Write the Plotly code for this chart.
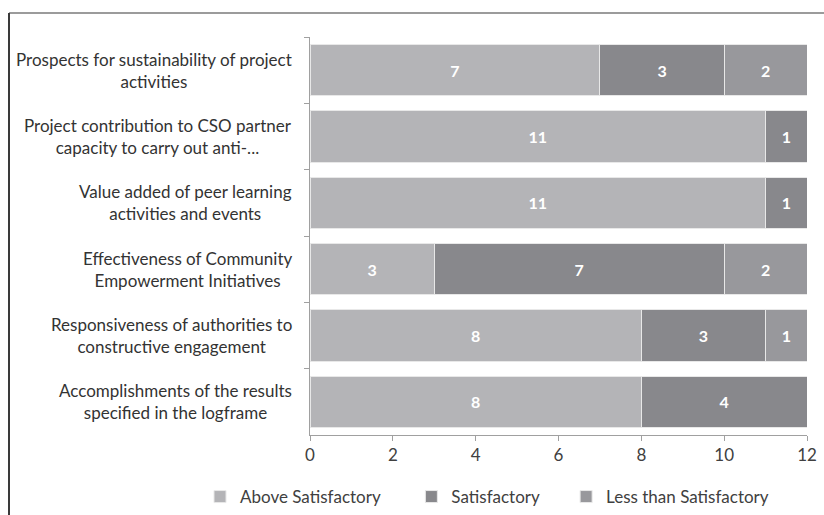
import plotly.graph_objects as go

categories = [
    "Prospects for sustainability of project<br>activities",
    "Project contribution to CSO partner<br>capacity to carry out anti-...",
    "Value added of peer learning<br>activities and events",
    "Effectiveness of Community<br>Empowerment Initiatives",
    "Responsiveness of authorities to<br>constructive engagement",
    "Accomplishments of the results<br>specified in the logframe",
]
above = [7, 11, 11, 3, 8, 8]
satisfactory = [3, 1, 1, 7, 3, 4]
less_than = [2, None, None, 2, 1, None]
x_ticks = [0, 2, 4, 6, 8, 10, 12]

NB = "\u00a0"
series = [
    ("Above Satisfactory" + NB * 6, above, "#b4b4b7"),
    ("Satisfactory" + NB * 5, satisfactory, "#88888c"),
    ("Less than Satisfactory", less_than, "#98989c"),
]

FONT = "Lato"
W, H = 824, 515
L, R, T, B = 310, 17, 37, 80
pw, ph = W - L - R, H - T - B

fig = go.Figure()
for name, vals, col in series:
    fig.add_trace(go.Bar(
        y=categories, x=vals, name=name, orientation="h",
        marker=dict(color=col, line=dict(color="#e8e8e8", width=1)),
        text=vals, texttemplate="<b>%{x}</b>", textposition="inside",
        insidetextanchor="middle",
        textfont=dict(color="white", size=16, family=FONT),
    ))

for c in categories:
    fig.add_annotation(
        x=(294 - L) / pw, xref="paper", y=c, yref="y",
        text=c, showarrow=False, xanchor="right", align="center",
        font=dict(size=17, color="#333333", family=FONT),
    )

# frame lines (top and left)
fx = (9 - L) / pw
fy = (H - B - 13) / ph
fig.add_shape(type="line", xref="paper", yref="paper", x0=fx, x1=(W - L) / pw + 0.01,
              y0=fy, y1=fy, line=dict(color="#7a7a7a", width=1.5))
fig.add_shape(type="line", xref="paper", yref="paper", x0=fx, x1=fx,
              y0=fy, y1=-B / ph - 0.01, line=dict(color="#3a3a3a", width=2))

fig.update_layout(
    width=W, height=H,
    margin=dict(l=L, r=R, t=T, b=B, autoexpand=False),
    barmode="stack", bargap=0.23,
    plot_bgcolor="white", paper_bgcolor="white",
    font=dict(family=FONT, color="#404040"),
    showlegend=True,
    legend=dict(orientation="h", x=(200 - L) / pw, xanchor="left", y=(435 - 497) / ph, yanchor="middle",
                font=dict(size=17, color="#404040", family=FONT),
                itemwidth=30, traceorder="normal"),
    xaxis=dict(range=[0, 12], tickvals=x_ticks, showgrid=False, zeroline=False,
               showline=True, linecolor="#a0a0a0", linewidth=1, automargin=False,
               ticks="outside", ticklen=5, tickcolor="#a0a0a0",
               tickfont=dict(size=17, color="#404040", family=FONT)),
    yaxis=dict(autorange="reversed", showticklabels=False, showgrid=False,
               showline=True, linecolor="#a0a0a0", linewidth=1, automargin=False,
               ticks="outside", ticklen=5, tickcolor="#a0a0a0",
               tickson="boundaries"),
)

fig.write_html("out.html", config={"displayModeBar": False},
               post_script="document.body.style.margin='0';document.body.style.overflow='hidden';")
